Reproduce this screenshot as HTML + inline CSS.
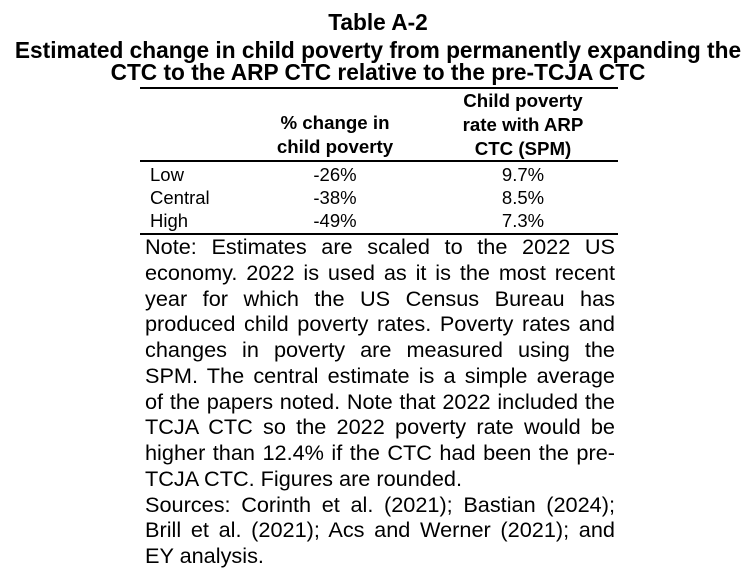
<!DOCTYPE html>
<html><head><style>
body{margin:0;width:756px;height:572px;background:#fff;position:relative;font-family:"Liberation Sans",Arial,sans-serif;color:#000;overflow:hidden}
.a{position:absolute;white-space:nowrap}
.t{left:0;width:756px;text-align:center;font-weight:bold;font-size:22.7px;line-height:22px}
.hr{position:absolute;left:140px;width:478px;height:2px;background:#000}
.h{font-weight:bold;font-size:18.7px;text-align:center;width:240px;line-height:24px}
.c{font-size:18.5px;line-height:23px}
.n{position:absolute;left:145px;width:470px;font-size:21.7px;line-height:25.75px;white-space:nowrap}
.j{text-align:justify;text-align-last:justify}
</style></head><body>
<div class="a t" style="top:11px">Table A-2</div>
<div class="a t" style="top:39px">Estimated change in child poverty from permanently expanding the</div>
<div class="a t" style="top:61px">CTC to the ARP CTC relative to the pre-TCJA CTC</div>
<div class="hr" style="top:87px"></div>
<div class="a h" style="left:215px;top:111px">% change in<br>child poverty</div>
<div class="a h" style="left:403px;top:89px">Child poverty<br>rate with ARP<br>CTC (SPM)</div>
<div class="hr" style="top:160px"></div>
<div class="a c" style="left:150px;top:163px">Low<br>Central<br>High</div>
<div class="a c" style="left:235px;width:200px;text-align:center;top:163px">-26%<br>-38%<br>-49%</div>
<div class="a c" style="left:423px;width:200px;text-align:center;top:163px">9.7%<br>8.5%<br>7.3%</div>
<div class="hr" style="top:233px"></div>
<div class="n" style="top:234px">
<div class="j">Note: Estimates are scaled to the 2022 US</div>
<div class="j">economy. 2022 is used as it is the most recent</div>
<div class="j">year for which the US Census Bureau has</div>
<div class="j">produced child poverty rates. Poverty rates and</div>
<div class="j">changes in poverty are measured using the</div>
<div class="j">SPM. The central estimate is a simple average</div>
<div class="j">of the papers noted. Note that 2022 included the</div>
<div class="j">TCJA CTC so the 2022 poverty rate would be</div>
<div class="j">higher than 12.4% if the CTC had been the pre-</div>
<div>TCJA CTC. Figures are rounded.</div>
<div class="j">Sources: Corinth et al. (2021); Bastian (2024);</div>
<div class="j">Brill et al. (2021); Acs and Werner (2021); and</div>
<div>EY analysis.</div>
</div>
</body></html>
